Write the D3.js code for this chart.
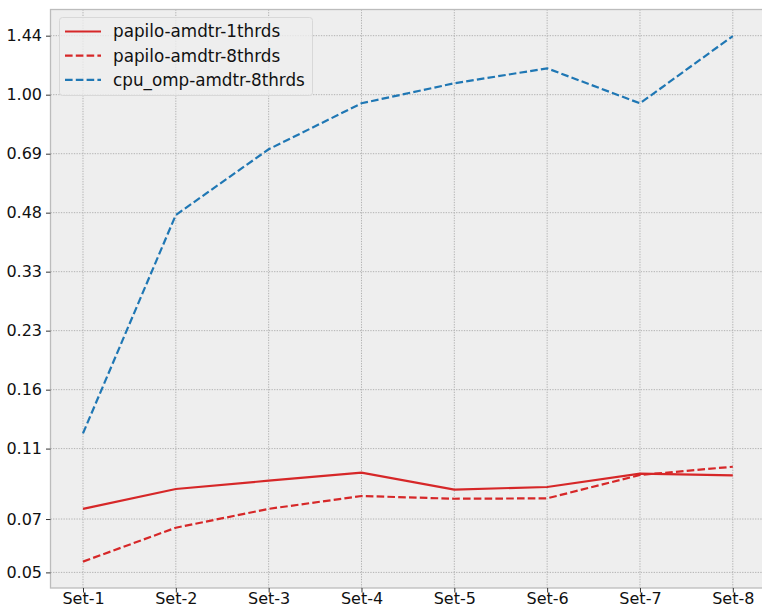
<!DOCTYPE html>
<html>
<head>
<meta charset="utf-8">
<script src="https://cdn.jsdelivr.net/npm/d3@7"></script>
<style>
  body { margin: 0; background: #fff; }
  svg { display: block; font-family: "DejaVu Sans", sans-serif; }
</style>
</head>
<body>
<svg id="chart" width="762" height="607"></svg>
<script>
// categories on the x axis
var categories = ['Set-1', 'Set-2', 'Set-3', 'Set-4', 'Set-5', 'Set-6', 'Set-7', 'Set-8'];

// series values
var papilo1 = [0.0773, 0.0874, 0.0920, 0.0967, 0.0871, 0.0885, 0.0961, 0.0951];
var papilo8 = [0.0558, 0.0688, 0.0773, 0.0837, 0.0823, 0.0825, 0.0953, 0.1003];
var cpuOmp8 = [0.1233, 0.4755, 0.7136, 0.9482, 1.073, 1.177, 0.948, 1.437];

// y tick values (log spaced), labels shown with 2 decimals
var yTicks = [0.0522, 0.0726, 0.1122, 0.1615, 0.2326, 0.3349, 0.4823, 0.6944, 1.0, 1.44];

var seriesNames = ['papilo-amdtr-1thrds', 'papilo-amdtr-8thrds', 'cpu_omp-amdtr-8thrds'];

var series = [
  {name: seriesNames[0], values: papilo1, color: '#d62728', dash: null},
  {name: seriesNames[1], values: papilo8, color: '#d62728', dash: '7.6,3.2'},
  {name: seriesNames[2], values: cpuOmp8, color: '#1f77b4', dash: '7.6,3.2'}
];

var plot = {left: 50.5, top: 9.5, right: 765.3, bottom: 588};

var svg = d3.select('#chart');

//scales: index based x with matplotlib style margins, log y
var x = d3.scaleLinear().domain([-0.35, categories.length - 1 + 0.35]).range([plot.left, plot.right]);
var y = d3.scaleLog().domain([0.0474, 1.693]).range([plot.bottom, plot.top]);

//axes background
svg.append('rect')
  .attr('x', plot.left).attr('y', plot.top)
  .attr('width', plot.right - plot.left).attr('height', plot.bottom - plot.top)
  .attr('fill', '#eeeeee');

//grid lines
var grid = svg.append('g').attr('stroke', '#b2b2b2').attr('stroke-width', 1).attr('stroke-dasharray', '1.3,1.3');
grid.selectAll('.gx').data(categories).enter().append('line')
  .attr('x1', function(d, i) { return x(i); }).attr('x2', function(d, i) { return x(i); })
  .attr('y1', plot.top).attr('y2', plot.bottom);
grid.selectAll('.gy').data(yTicks).enter().append('line')
  .attr('x1', plot.left).attr('x2', plot.right)
  .attr('y1', function(d) { return y(d); }).attr('y2', function(d) { return y(d); });

//frame
svg.append('rect')
  .attr('x', plot.left).attr('y', plot.top)
  .attr('width', plot.right - plot.left).attr('height', plot.bottom - plot.top)
  .attr('fill', 'none').attr('stroke', '#bcbcbc').attr('stroke-width', 1.3);

//y axis
var yAxis = d3.axisLeft(y).tickValues(yTicks).tickFormat(d3.format('.2f')).tickSize(4.5).tickPadding(4);
var gy = svg.append('g').attr('transform', 'translate(' + plot.left + ',0)').call(yAxis);
gy.select('.domain').remove();
gy.selectAll('line').attr('stroke', '#333').attr('stroke-width', 1);
gy.selectAll('text').attr('font-size', 16).attr('fill', '#111').attr('font-family', '"DejaVu Sans", sans-serif');

//x axis - labels sit close to the ticks, the figure is cropped just below them
var xAxis = d3.axisBottom(x).tickValues(d3.range(categories.length))
  .tickFormat(function(i) { return categories[i]; }).tickSize(4.5).tickPadding(0.5);
var gx = svg.append('g').attr('transform', 'translate(0,' + plot.bottom + ')').call(xAxis);
gx.select('.domain').remove();
gx.selectAll('line').attr('stroke', '#333').attr('stroke-width', 1);
gx.selectAll('text').attr('font-size', 16).attr('fill', '#111').attr('font-family', '"DejaVu Sans", sans-serif');

//lines
var line = d3.line()
  .x(function(d, i) { return x(i); })
  .y(function(d) { return y(d); });

series.forEach(function(s) {
  svg.append('path')
    .datum(s.values)
    .attr('fill', 'none')
    .attr('stroke', s.color)
    .attr('stroke-width', 2.2)
    .attr('stroke-dasharray', s.dash)
    .attr('d', line);
});

//legend
var legend = svg.append('g');
legend.append('rect')
  .attr('x', 59.5).attr('y', 17.5).attr('width', 253).attr('height', 78).attr('rx', 3)
  .attr('fill', '#eeeeee').attr('fill-opacity', 0.8)
  .attr('stroke', '#d8d8d8').attr('stroke-width', 1);
series.forEach(function(s, i) {
  var yy = 31.5 + i * 24.2;
  legend.append('line')
    .attr('x1', 65).attr('x2', 101).attr('y1', yy).attr('y2', yy)
    .attr('stroke', s.color).attr('stroke-width', 2.2)
    .attr('stroke-dasharray', s.dash);
  legend.append('text')
    .attr('x', 113).attr('y', yy).attr('dy', '0.35em')
    .attr('font-size', 16.8).attr('fill', '#111')
    .text(s.name);
});
</script>
</body>
</html>
